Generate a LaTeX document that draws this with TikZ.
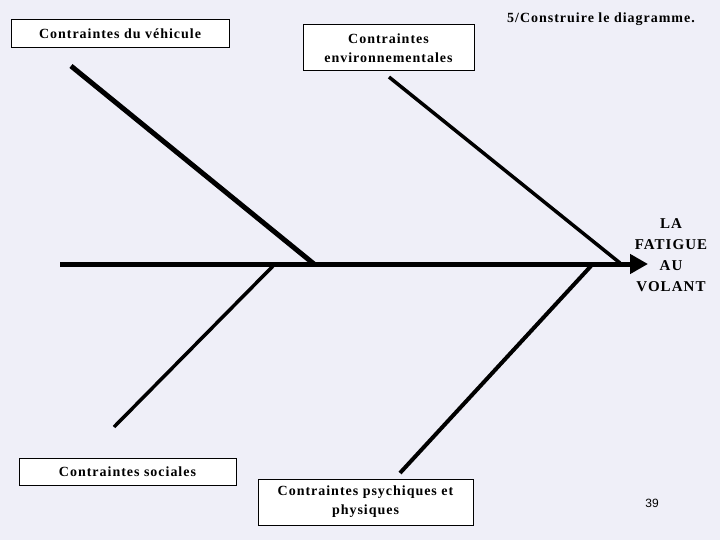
\documentclass[tikz,border=0pt]{standalone}
\usepackage{fontspec}
\setmainfont{Liberation Serif}[LetterSpace=7]
\setsansfont{Liberation Sans}
\usetikzlibrary{arrows.meta}
\definecolor{bg}{RGB}{239,239,248}
\tikzset{
  lbl/.style={draw=black, line width=1pt, fill=white, inner sep=0pt, align=center, font=\bfseries\fontsize{14}{19}\selectfont},
  bone/.style={line width=3.5pt},
}
\begin{document}
\begin{tikzpicture}[x=1pt,y=-1pt]
\fill[bg] (0,0) rectangle (720,540);
\useasboundingbox (0,0) rectangle (720,540);
% boxes
\node[lbl, minimum width=218pt, minimum height=28pt] (veh) at (120,34) {Contraintes du véhicule};
\node[lbl, minimum width=171pt, minimum height=46pt] (env) at (388.5,48) {Contraintes\\environnementales};
\node[lbl, minimum width=217pt, minimum height=27pt] (soc) at (127.5,471.5) {Contraintes sociales};
\node[lbl, minimum width=215pt, minimum height=46pt] (psy) at (365.5,502) {Contraintes psychiques et\\physiques};
\node[font=\bfseries\fontsize{14}{19}\selectfont] (title) at (601,19) {5/Construire le diagramme.};
\node[font=\bfseries\fontsize{15}{21}\selectfont, align=center] (effet) at (671,255) {LA\\FATIGUE\\AU\\VOLANT};
\node[font=\sffamily\fontsize{12}{14}\selectfont] (num) at (652,503) {39};
% bones
\coordinate (s0) at (60,264);
\coordinate (s1) at (648,264);
\coordinate (a1) at (71,66);  \coordinate (a2) at (314,264);
\coordinate (b1) at (389,77); \coordinate (b2) at (620,263);
\coordinate (c1) at (114,427); \coordinate (c2) at (274,265);
\coordinate (d1) at (400,473); \coordinate (d2) at (591,266);
\draw[line width=5pt, -{Triangle[length=18pt,width=19pt]}] (s0) -- (s1);
\draw[bone, line width=5pt] (a1) -- (a2);
\draw[bone, line width=3.5pt] (b1) -- (b2);
\draw[bone, line width=3.5pt] (c1) -- (c2);
\draw[bone, line width=4pt] (d1) -- (d2);
\end{tikzpicture}
\end{document}
